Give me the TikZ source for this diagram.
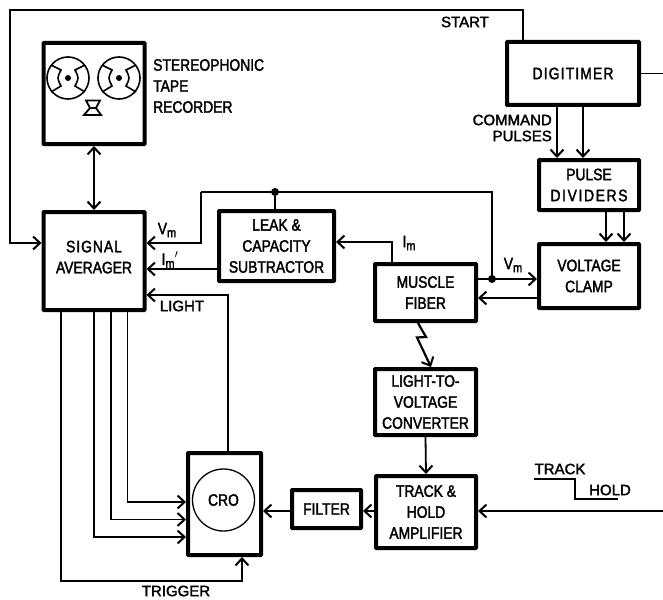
\documentclass[tikz,border=0pt]{standalone}
\usepackage{fontspec}
\setmainfont[FakeStretch=0.84,FakeBold=2]{Liberation Sans}
\newfontfamily\widef[FakeBold=2]{Liberation Sans}
\usetikzlibrary{arrows.meta,calc}
\newcommand{\subm}{\raisebox{-3pt}{\fontsize{13}{13}\selectfont m}}
\newcommand{\lsp}[2]{{\addfontfeature{LetterSpace=#1}#2}}
\tikzset{
  >={Straight Barb[length=7pt,width=13pt,line width=2pt]},
  box/.style={draw,line width=4pt,rounded corners=0.5pt,align=center,inner sep=0pt,
    font=\fontsize{16.5}{21}\selectfont},
  conn/.style={line width=1.8pt,line join=miter},
  thin conn/.style={line width=1.4pt,line join=miter},
  lbl/.style={inner sep=0pt,font=\widef\fontsize{15}{16}\selectfont},
  subl/.style={inner sep=0pt,font=\fontsize{16.5}{16}\selectfont},
  dotn/.style={circle,fill=black,inner sep=0pt,minimum size=8pt},
  reel/.style={line width=1.6pt},
}
\begin{document}
\begin{tikzpicture}[x=1pt,y=-1pt]
\useasboundingbox (0,0) rectangle (663,599);
% boxes
\node[box,minimum width=101pt,minimum height=101pt] (tape) at (94,93.5) {};
\node[box,minimum width=101pt,minimum height=98pt] (sa) at (94,261) {\lsp{6}{SIGNAL}\\AVERAGER\rule[-8pt]{0pt}{8pt}};
\node[box,minimum width=115pt,minimum height=70pt] (leak) at (276.5,246) {LEAK \&\\CAPACITY\\SUBTRACTOR};
\node[box,minimum width=132pt,minimum height=63pt] (dg) at (573,73.5) {\lsp{7}{DIGITIMER}};
\node[box,minimum width=100pt,minimum height=50pt] (pd) at (589,185) {PULSE\\\lsp{10}{DIVIDERS}};
\node[box,minimum width=100pt,minimum height=64pt] (vc) at (589,276) {VOLTAGE\\CLAMP};
\node[box,minimum width=101pt,minimum height=57pt] (mf) at (425.5,292.5) {MUSCLE\\FIBER};
\node[box,minimum width=101pt,minimum height=66pt] (lv) at (425.5,402) {LIGHT-TO-\\VOLTAGE\\CONVERTER};
\node[box,minimum width=100pt,minimum height=72pt] (th) at (426,512) {TRACK \&\\HOLD\\AMPLIFIER};
\node[box,minimum width=69pt,minimum height=38pt] (fl) at (326.5,509) {FILTER};
\node[box,minimum width=73pt,minimum height=102pt] (cro) at (224.5,504) {};
\node[draw,circle,line width=1.3pt,minimum size=62pt,inner sep=0pt,font=\fontsize{16.5}{18}\selectfont] (scr) at (223.5,500) {CRO};
% tape recorder drawing
\foreach \n/\cx in {r1/68,r2/119}{
  \node[draw,circle,reel,minimum size=42pt,inner sep=0pt] (\n) at (\cx,78) {};
  \node[circle,fill=black,inner sep=0pt,minimum size=6pt] (\n hub) at (\cx,78) {};
  \draw[reel] (\n hub) ++(-17,-13) -- ++(10,5) .. controls ++(-4,8) .. ++(0,16) -- ++(-10,6);
  \draw[reel] (\n hub) ++(17,-13) -- ++(-10,5) .. controls ++(4,8) .. ++(0,16) -- ++(10,6);
}
\draw[line width=1.8pt] (86,100.5) -- (100,100.5) -- (96,108) -- (90,108) -- cycle
  (90,108) -- (96,108) -- (101,115) -- (84,115) -- cycle;
% corner coordinates
\coordinate (c1) at (523,10);
\coordinate (c2) at (10,10);
\coordinate (j1) at (275,192);
\coordinate (j2) at (492,279);
\coordinate (c3) at (201,243);
\coordinate (c4) at (392,242);
\coordinate (c5) at (228,295);
% connectors
\draw[thin conn,->] (dg.north -| c1) -- (c1) -- (c2) -- (c2 |- c3) -- (sa.west |- c3);
\draw[thin conn] (dg.east) -- (663,73.5);
\draw[line width=2.2pt,<->] (tape.south) -- (sa.north);
\draw[conn,->] (dg.south -| 557,0) -- (pd.north -| 557,0);
\draw[conn,->] (dg.south -| 583,0) -- (pd.north -| 583,0);
\draw[conn,->] (pd.south -| 606,0) -- (vc.north -| 606,0);
\draw[conn,->] (pd.south -| 624,0) -- (vc.north -| 624,0);
\draw[conn,->] (mf.east |- j2) -- (vc.west |- j2);
\draw[thin conn] (j2) -- (j2 |- j1) -- (c3 |- j1);
\draw[conn,->] (c3 |- j1) -- (c3) -- (sa.east |- c3);
\node[dotn] (d1) at (j1) {};
\node[dotn] (d2) at (j2) {};
\draw[conn] (d1) -- (leak.north -| d1);
\draw[conn,->] (leak.west |- 0,269) -- (sa.east |- 0,269);
\draw[conn,->] (mf.north -| c4) -- (c4) -- (leak.east |- c4);
\draw[conn,->] (vc.west |- 0,298) -- (mf.east |- 0,298);
\draw[thin conn,->] (cro.north -| c5) -- (c5) -- (sa.east |- c5);
\draw[thin conn,->] (sa.south -| 61,0) -- (61,581) -- (242,581) -- (cro.south -| 242,0);
\draw[thin conn,->] (sa.south -| 94,0) -- (94,537) -- (cro.west |- 0,537);
\draw[thin conn,->] (sa.south -| 111,0) -- (111,519.5) -- (cro.west |- 0,519.5);
\draw[thin conn,->] (sa.south -| 127.5,0) -- (127.5,502) -- (cro.west |- 0,502);
\draw[conn,->] (fl.west |- 0,511) -- (cro.east |- 0,511);
\draw[conn,->] (th.west |- 0,511) -- (fl.east |- 0,511);
\draw[conn,->] (663,511) -- (th.east |- 0,511);
\draw[conn,->] (lv.south) -- (th.north);
\draw[line width=2.2pt,->] (mf.south -| 418,0) -- (426,337) -- (417,337.5) -- (lv.north -| 431,0);
\draw[conn] (534,479) -- (575,479) -- (575,499) -- (618,499);
% labels
\node[lbl,anchor=west,align=left,font=\fontsize{16.5}{21}\selectfont] (tl) at (153,86) {STEREOPHONIC\\TAPE\\RECORDER};
\node[lbl] (start) at (465,22) {START};
\node[lbl,anchor=east,align=right] (cmd) at (552,128) {COMMAND\\PULSES};
\node[lbl] (trig) at (176,591) {TRIGGER};
\node[lbl] (light) at (182,306) {LIGHT};
\node[lbl] (track) at (560,469) {TRACK};
\node[lbl] (hold) at (610,490) {HOLD};
\node[subl] (vm1) at (167,230) {V\subm};
\node[subl] (im1) at (170,260) {I\subm$'$};
\node[subl] (im2) at (409,243) {I\subm};
\node[subl] (vm2) at (513,265) {V\subm};
\end{tikzpicture}
\end{document}
